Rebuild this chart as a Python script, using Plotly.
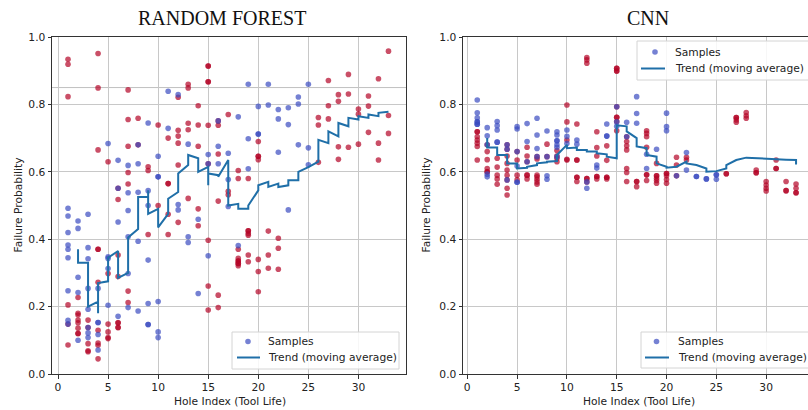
import plotly.graph_objects as go

# ---------------- DATA ----------------
# Random Forest samples (blue = class 0, red = class 1)
rf_blue_x = [1]*9 + [2]*5 + [3]*8 + [4]*5 + [5]*5 + [6]*4 + [7]*6 + [8]*5 + [9]*7 + [10]*6 + \
            [11]*2 + [12]*3 + [13]*3 + [14]*2 + [15]*3 + [16]*3 + [17]*3 + [18]*2 + [19]*3 + \
            [20]*3 + [21]*2 + [22]*3 + [23]*3 + [24]*3 + [25]*3
rf_blue_y = [0.492, 0.469, 0.42, 0.383, 0.37, 0.345, 0.247, 0.159, 0.148,
             0.454, 0.432, 0.287, 0.242, 0.10,
             0.474, 0.375, 0.342, 0.254, 0.192, 0.138, 0.122, 0.108,
             0.254, 0.153, 0.153, 0.117, 0.071,
             0.684, 0.348, 0.343, 0.313, 0.204,
             0.634, 0.551, 0.451, 0.171,
             0.619, 0.538, 0.485, 0.407, 0.298, 0.197,
             0.68, 0.624, 0.539, 0.394, 0.187,
             0.745, 0.544, 0.50, 0.338, 0.209, 0.147, 0.147,
             0.646, 0.585, 0.585, 0.215, 0.125, 0.108,
             0.839, 0.729,
             0.829, 0.503, 0.487,
             0.682, 0.407, 0.39,
             0.459, 0.239,
             0.651, 0.624, 0.351,
             0.751, 0.676, 0.624,
             0.655, 0.577, 0.497,
             0.763, 0.381,
             0.86, 0.698, 0.609,
             0.794, 0.712, 0.712,
             0.86, 0.798,
             0.785, 0.757, 0.658,
             0.79, 0.74, 0.487,
             0.822, 0.801, 0.68,
             0.86, 0.671, 0.621]
rf_red_x = [1]*6 + [2]*8 + [3]*5 + [4]*10 + [5]*6 + [6]*8 + [7]*7 + [8]*2 + [9]*3 + [10]*2 + \
           [11]*5 + [12]*6 + [13]*5 + [14]*5 + [15]*9 + [16]*6 + [17]*3 + [18]*9 + [19]*7 + \
           [20]*7 + [21]*3 + [22]*3 + [26]*3 + [27]*3 + [28]*4 + [29]*3 + [30]*3 + [31]*3 + \
           [32]*3 + [33]*3
rf_red_y = [0.934, 0.919, 0.823, 0.205, 0.148, 0.086,
            0.227, 0.18, 0.175, 0.16, 0.152, 0.136, 0.12, 0.12,
            0.16, 0.138, 0.09, 0.069, 0.066,
            0.951, 0.849, 0.665, 0.37, 0.37, 0.272, 0.13, 0.092, 0.085, 0.045,
            0.63, 0.298, 0.148, 0.125, 0.108, 0.105,
            0.551, 0.518, 0.353, 0.289, 0.152, 0.152, 0.138, 0.138,
            0.843, 0.755, 0.676, 0.598, 0.564, 0.246, 0.212,
            0.759, 0.68,
            0.615, 0.604, 0.414,
            0.739, 0.50,
            0.70, 0.565, 0.565, 0.474, 0.414,
            0.821, 0.723, 0.706, 0.685, 0.62, 0.45,
            0.86, 0.849, 0.744, 0.725, 0.521,
            0.796, 0.739, 0.676, 0.49, 0.44,
            0.914, 0.914, 0.867, 0.867, 0.738, 0.624, 0.397, 0.261, 0.19,
            0.751, 0.738, 0.653, 0.513, 0.234, 0.197,
            0.77, 0.542, 0.532,
            0.604, 0.58, 0.37, 0.343, 0.335, 0.335, 0.328, 0.328, 0.321,
            0.58, 0.425, 0.425, 0.417, 0.412, 0.353, 0.333,
            0.69, 0.646, 0.646, 0.636, 0.34, 0.304, 0.244,
            0.424, 0.353, 0.314,
            0.403, 0.373, 0.311,
            0.761, 0.739, 0.628,
            0.871, 0.796, 0.757,
            0.829, 0.809, 0.674, 0.637,
            0.889, 0.831, 0.673,
            0.786, 0.771, 0.682,
            0.825, 0.795, 0.717,
            0.876, 0.685, 0.635,
            0.958, 0.767, 0.714]
rf_trend_x = [2, 2, 3, 3, 4, 4, 4, 5, 5, 6, 6, 7, 7, 8, 8, 9, 9, 9, 10, 10, 11, 11, 12, 12,
              13, 13, 14, 14, 15, 15, 15, 16, 16, 17, 17, 18, 18, 19, 19, 20, 20, 21, 21,
              22, 22, 23, 23, 24, 24, 25, 26, 26, 27, 27, 28, 28, 29, 29, 30, 30, 31, 31,
              32, 32, 33]
rf_trend_y = [0.37, 0.33, 0.33, 0.20, 0.215, 0.18, 0.27, 0.275, 0.345, 0.365, 0.285, 0.30,
              0.405, 0.43, 0.525, 0.525, 0.545, 0.475, 0.49, 0.435, 0.475, 0.52, 0.54, 0.595,
              0.62, 0.65, 0.64, 0.60, 0.615, 0.56, 0.595, 0.59, 0.585, 0.635, 0.50, 0.505,
              0.49, 0.49, 0.50, 0.545, 0.56, 0.57, 0.555, 0.565, 0.555, 0.56, 0.575, 0.575,
              0.60, 0.614, 0.63, 0.695, 0.685, 0.72, 0.705, 0.745, 0.735, 0.76, 0.755, 0.765,
              0.76, 0.77, 0.765, 0.775, 0.778]
rf_threshold = 0.85

# CNN samples
cnn_blue_x = [1]*7 + [2]*5 + [3]*5 + [4]*3 + [5]*6 + [6]*3 + [7]*4 + [8]*4 + [9]*7 + [10]*3 + \
             [11]*2 + [12]*2 + [13]*2 + [14]*3 + [15]*3 + [16]*2 + [17]*3 + [18]*2 + [19]*1 + \
             [20]*3 + [21]*1 + [22]*2 + [23]*2 + [24]*2 + [25]*3
cnn_blue_y = [0.813, 0.775, 0.76, 0.748, 0.748, 0.741, 0.741,
              0.731, 0.707, 0.68, 0.593, 0.585,
              0.749, 0.737, 0.724, 0.688, 0.688,
              0.68, 0.667, 0.576,
              0.734, 0.727, 0.66, 0.617, 0.569, 0.569,
              0.743, 0.69, 0.63,
              0.759, 0.709, 0.669, 0.645,
              0.721, 0.645, 0.588, 0.578,
              0.719, 0.709, 0.692, 0.692, 0.68, 0.673, 0.645,
              0.724, 0.705, 0.684,
              0.694, 0.682,
              0.551, 0.57,
              0.62, 0.611,
              0.742, 0.706, 0.706,
              0.793, 0.748, 0.735,
              0.747, 0.704,
              0.823, 0.773, 0.744,
              0.652, 0.61,
              0.667,
              0.774, 0.734, 0.722,
              0.588,
              0.657, 0.605,
              0.586, 0.586,
              0.579, 0.579,
              0.591, 0.591, 0.578]
cnn_red_x = [1]*7 + [2]*6 + [3]*5 + [4]*9 + [5]*4 + [6]*6 + [7]*7 + [8]*2 + [9]*4 + [10]*5 + \
            [11]*6 + [12]*6 + [13]*6 + [14]*5 + [15]*9 + [16]*7 + [17]*3 + [18]*7 + [19]*6 + \
            [20]*5 + [21]*3 + [22]*2 + [26]*2 + [27]*4 + [28]*3 + [29]*3 + [30]*4 + [31]*3 + \
            [32]*3 + [33]*4
cnn_red_y = [0.719, 0.719, 0.704, 0.694, 0.685, 0.675, 0.635,
             0.68, 0.66, 0.636, 0.61, 0.60, 0.60,
             0.64, 0.614, 0.59, 0.579, 0.563,
             0.68, 0.667, 0.647, 0.625, 0.605, 0.59, 0.576, 0.551, 0.531,
             0.66, 0.635, 0.59, 0.576,
             0.673, 0.647, 0.63, 0.59, 0.59, 0.579,
             0.645, 0.638, 0.59, 0.585, 0.578, 0.57, 0.563,
             0.682, 0.645,
             0.663, 0.647, 0.64, 0.63,
             0.798, 0.748, 0.694, 0.637, 0.635,
             0.742, 0.635, 0.635, 0.584, 0.584, 0.571,
             0.939, 0.932, 0.922, 0.58, 0.58, 0.57,
             0.719, 0.672, 0.647, 0.586, 0.586, 0.579,
             0.677, 0.634, 0.584, 0.584, 0.579,
             0.907, 0.907, 0.899, 0.899, 0.793, 0.762, 0.762, 0.749, 0.722,
             0.704, 0.69, 0.677, 0.665, 0.61, 0.598, 0.571,
             0.571, 0.571, 0.556,
             0.722, 0.714, 0.704, 0.673, 0.591, 0.591, 0.574,
             0.625, 0.588, 0.588, 0.581, 0.574, 0.566,
             0.595, 0.595, 0.588, 0.577, 0.566,
             0.643, 0.62, 0.588,
             0.643, 0.635,
             0.594, 0.594,
             0.761, 0.761, 0.754, 0.747,
             0.776, 0.766, 0.759,
             0.605, 0.597, 0.597,
             0.571, 0.561, 0.551, 0.543,
             0.635, 0.61, 0.61,
             0.571, 0.544, 0.544,
             0.564, 0.551, 0.538, 0.538]
cnn_trend_x = [2, 2, 3, 3, 4, 4, 5, 5, 6, 6, 7, 7, 8, 8, 9, 9, 10, 10, 11, 11, 12, 12, 13, 13,
               14, 14, 15, 15, 16, 16, 17, 17, 18, 18, 19, 19, 20, 20, 21, 22, 22, 23, 24, 24,
               25, 26, 26, 27, 28, 29, 30, 31, 32, 33, 33]
cnn_trend_y = [0.70, 0.672, 0.672, 0.65, 0.65, 0.625, 0.625, 0.61, 0.612, 0.615, 0.62, 0.625,
               0.628, 0.63, 0.632, 0.65, 0.68, 0.67, 0.672, 0.665, 0.665, 0.66, 0.66, 0.655,
               0.652, 0.645, 0.64, 0.738, 0.735, 0.72, 0.70, 0.675, 0.67, 0.65, 0.645, 0.625,
               0.615, 0.612, 0.615, 0.63, 0.625, 0.62, 0.61, 0.60, 0.602, 0.61, 0.62, 0.635,
               0.642, 0.64, 0.638, 0.638, 0.636, 0.635, 0.622]

x_ticks = [0, 5, 10, 15, 20, 25, 30]
y_ticks = [0.0, 0.2, 0.4, 0.6, 0.8, 1.0]
legend_labels = ["Samples", "Trend (moving average)"]
panel_titles = ["RANDOM FOREST", "CNN"]
x_title = "Hole Index (Tool Life)"
y_title = "Failure Probability"

# ---------------- STYLE ----------------
W, H = 808, 410
BLUE = "rgba(59,76,192,0.7)"
RED = "rgba(180,4,38,0.7)"
TREND = "#1f6fa8"
FONT = "DejaVu Sans"
FS = 10.7
MS = 5.6
TXT = "#222222"


def fx(p):
    return p / W


def fy(p):
    return 1 - p / H


fig = go.Figure()


def add_panel(xa, ya, bx, by, rx, ry, tx, ty):
    fig.add_trace(go.Scatter(x=rx, y=ry, mode="markers", xaxis=xa, yaxis=ya,
                             marker=dict(color=RED, size=MS, line=dict(width=0)),
                             showlegend=False, hoverinfo="skip"))
    fig.add_trace(go.Scatter(x=bx, y=by, mode="markers", xaxis=xa, yaxis=ya,
                             name=legend_labels[0],
                             marker=dict(color=BLUE, size=MS, line=dict(width=0)),
                             showlegend=False))
    fig.add_trace(go.Scatter(x=tx, y=ty, mode="lines", xaxis=xa, yaxis=ya,
                             name=legend_labels[1],
                             line=dict(color=TREND, width=2), showlegend=False))


add_panel("x", "y", rf_blue_x, rf_blue_y, rf_red_x, rf_red_y, rf_trend_x, rf_trend_y)
add_panel("x2", "y2", cnn_blue_x, cnn_blue_y, cnn_red_x, cnn_red_y, cnn_trend_x, cnn_trend_y)

shapes = [dict(type="line", xref="x domain", x0=0, x1=1, yref="y", y0=rf_threshold,
               y1=rf_threshold, line=dict(color="#c0c0c0", width=1), layer="below")]
annotations = []


def add_legend(left, top, bottom, right, mark_x, line_x0, line_x1, text_x, row1, row2):
    shapes.append(dict(type="rect", xref="paper", yref="paper", x0=fx(left), x1=fx(right),
                       y0=fy(bottom), y1=fy(top), line=dict(color="#d4d4d4", width=1),
                       fillcolor="rgba(255,255,255,0.85)", layer="above"))
    r = 2.8
    shapes.append(dict(type="circle", xref="paper", yref="paper", x0=fx(mark_x - r),
                       x1=fx(mark_x + r), y0=fy(row1 + r), y1=fy(row1 - r),
                       fillcolor=BLUE, line=dict(width=0), layer="above"))
    shapes.append(dict(type="line", xref="paper", yref="paper", x0=fx(line_x0),
                       x1=fx(line_x1), y0=fy(row2), y1=fy(row2),
                       line=dict(color=TREND, width=2), layer="above"))
    for label, row in zip(legend_labels, [row1, row2]):
        annotations.append(dict(text=label, x=fx(text_x), y=fy(row), xref="paper",
                                yref="paper", showarrow=False, xanchor="left",
                                yanchor="middle", font=dict(family=FONT, size=FS, color=TXT)))


add_legend(232, 332, 369, 399, 248, 237, 260, 266, 341.5, 357.5)
add_legend(637, 41, 80, 815, 655, 641, 665, 673, 52, 68.5)
add_legend(641, 332, 368, 815, 656.5, 645, 669, 675.5, 341.5, 357.5)

for text, cx in zip(panel_titles, [222, 648]):
    annotations.append(dict(text=text, x=fx(cx), y=fy(18), xref="paper", yref="paper",
                            showarrow=False, xanchor="center", yanchor="middle",
                            font=dict(family="Liberation Serif", size=20, color="#111111")))
for cx in [230, 638.5]:
    annotations.append(dict(text=x_title, x=fx(cx), y=fy(401), xref="paper", yref="paper",
                            showarrow=False, xanchor="center", yanchor="middle",
                            font=dict(family=FONT, size=FS, color=TXT)))
for cx in [18, 426]:
    annotations.append(dict(text=y_title, x=fx(cx), y=fy(205.5), xref="paper", yref="paper",
                            showarrow=False, textangle=-90, xanchor="center",
                            yanchor="middle", font=dict(family=FONT, size=FS, color=TXT)))

axis_common = dict(showgrid=True, gridcolor="#c8c8c8", gridwidth=1, zeroline=False,
                   showline=True, linecolor="#333333", linewidth=1, ticks="outside",
                   ticklen=3.5, tickcolor="#333333",
                   tickfont=dict(family=FONT, size=FS, color=TXT))
ydom = [fy(374), fy(37)]
fig.update_layout(
    width=W, height=H, margin=dict(l=0, r=0, t=0, b=0, autoexpand=False),
    paper_bgcolor="white", plot_bgcolor="white", showlegend=False,
    font=dict(family=FONT, size=FS, color=TXT),
    xaxis=dict(domain=[fx(52), fx(406)], range=[-0.6, 34.75], tickvals=x_ticks,
               mirror=True, anchor="y", **axis_common),
    yaxis=dict(domain=ydom, range=[0, 1], tickvals=y_ticks, tickformat=".1f",
               mirror=True, anchor="x", **axis_common),
    xaxis2=dict(domain=[fx(463), 1.0], range=[-0.43, 34.2], tickvals=x_ticks,
                mirror=True, anchor="y2", **axis_common),
    yaxis2=dict(domain=ydom, range=[0, 1], tickvals=y_ticks, tickformat=".1f",
                mirror=False, anchor="x2", **axis_common),
    shapes=shapes,
    annotations=annotations,
)

fig.write_html("out.html", config={"displayModeBar": False},
               post_script="document.body.style.margin='0';"
                           "document.body.style.overflow='hidden';")
